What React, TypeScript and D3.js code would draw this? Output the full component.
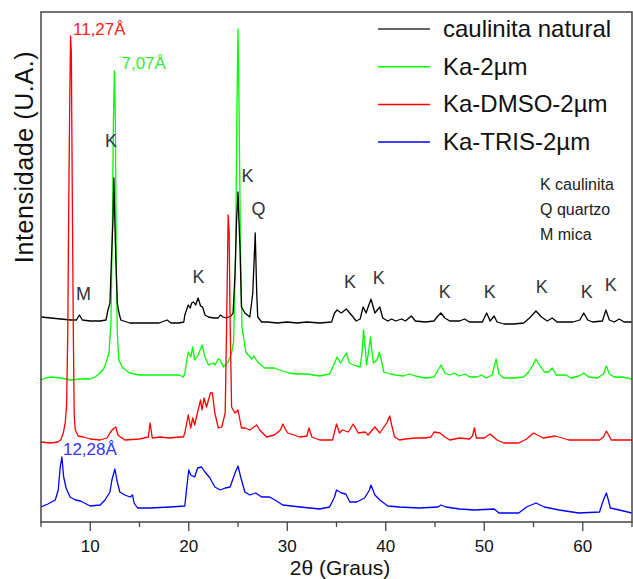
import React from "react";
import * as d3 from "d3";

// [2θ (degrees), intensity (a.u., offset per series)]
const caulinitaNatural: [number, number][] = [
  [5, 205], [6, 204], [7, 203], [8, 202], [8.6, 202], [8.9, 207], [9.2, 202], [10, 201], [11, 201], [11.6, 202],
  [11.8, 212], [12.0, 219], [12.15, 262], [12.3, 300], [12.4, 344], [12.5, 300], [12.6, 262], [12.75, 219], [12.9, 210],
  [13.1, 202], [14, 199], [15, 199], [16, 199], [17, 199], [17.8, 202], [18.2, 199], [19, 199], [19.5, 200], [19.6, 207],
  [19.95, 217], [20.15, 214], [20.3, 219], [20.5, 220], [20.7, 217], [20.95, 224], [21.2, 216], [21.4, 215], [21.65, 207],
  [22.0, 205], [22.5, 204], [23.0, 204], [23.2, 207], [23.5, 205], [23.8, 204], [24.3, 206], [24.5, 209], [24.7, 249],
  [24.85, 300], [25.0, 330], [25.1, 300], [25.2, 275], [25.35, 215], [25.7, 209], [26.2, 205], [26.5, 229], [26.75, 289],
  [26.9, 229], [27.0, 205], [27.4, 200], [28, 200], [29, 199], [30, 200], [31, 199], [32, 200], [33.3, 199], [34.5, 200],
  [34.8, 209], [35.05, 212], [35.5, 209], [36.0, 213], [36.6, 206], [37.0, 201], [37.4, 203], [37.7, 215], [38.0, 209],
  [38.5, 223], [38.9, 209], [39.4, 215], [39.7, 204], [40.2, 201], [40.6, 203], [41.0, 201], [41.6, 203], [42.0, 201],
  [42.6, 206], [43.0, 201], [44.0, 200], [44.9, 201], [45.2, 205], [45.6, 209], [46.0, 204], [46.5, 201], [47.5, 201],
  [48.0, 203], [48.5, 200], [49.8, 200], [50.25, 209], [50.6, 201], [51.0, 206], [51.3, 200], [52, 198], [53, 198],
  [54, 199], [54.6, 204], [55.25, 211], [55.8, 205], [56.4, 201], [56.9, 204], [57.4, 200], [58, 200], [59, 200],
  [59.7, 202], [60.1, 209], [60.5, 202], [61, 200], [62.0, 201], [62.35, 212], [62.7, 202], [63.2, 200], [63.7, 203],
  [64.2, 200], [65, 200],
];

const ka2um: [number, number][] = [
  [5, 142], [5.5, 144], [6, 145], [7, 144], [8, 142], [9, 143], [10, 143], [10.5, 145], [11, 149], [11.4, 154], [11.6, 159],
  [11.9, 169], [12.1, 199], [12.25, 300], [12.35, 400], [12.45, 451], [12.55, 400], [12.65, 250], [12.75, 189], [12.9, 162],
  [13.3, 154], [14, 149], [15, 147], [16, 147], [17, 147], [18, 147], [19, 147], [19.45, 145], [19.6, 149], [19.8, 162],
  [19.95, 170], [20.2, 165], [20.4, 175], [20.6, 162], [20.95, 167], [21.35, 177], [21.65, 165], [22.0, 157], [22.5, 159],
  [22.65, 157], [23.0, 163], [23.2, 162], [23.5, 155], [24.0, 160], [24.35, 169], [24.55, 180], [24.75, 260], [24.9, 420],
  [25.0, 493], [25.1, 420], [25.25, 280], [25.4, 195], [25.8, 170], [26.2, 165], [26.4, 163], [26.6, 166], [27.0, 160],
  [27.7, 154], [28.7, 154], [29.2, 152], [30.2, 149], [31, 148], [32, 148], [33.3, 146], [34.3, 148], [34.8, 159],
  [35.05, 165], [35.4, 159], [36.0, 169], [36.3, 159], [37.0, 156], [37.4, 155], [37.6, 170], [37.75, 192], [37.95, 170],
  [38.05, 157], [38.25, 170], [38.45, 185], [38.6, 170], [38.75, 159], [39.1, 162], [39.35, 170], [39.6, 160], [39.8, 150],
  [40.5, 148], [41, 147], [41.8, 146], [42.4, 148], [43, 146], [44, 144], [44.9, 145], [45.2, 150], [45.6, 157], [46.0, 149],
  [46.5, 147], [47.0, 149], [47.4, 146], [48.1, 148], [48.5, 145], [49.3, 145], [49.7, 147], [50.2, 144], [50.8, 147],
  [51.2, 163], [51.5, 148], [52, 144], [53, 144], [54.0, 145], [54.5, 150], [55.0, 158], [55.25, 163], [55.6, 157],
  [56.1, 150], [56.5, 150], [56.9, 154], [57.3, 147], [58.3, 147], [58.8, 144], [59.6, 146], [60.1, 149], [60.6, 145],
  [61.5, 144], [62.1, 148], [62.4, 156], [62.7, 148], [63.2, 145], [64, 145], [65, 143],
];

const kaDmso: [number, number][] = [
  [5, 80], [6, 79], [6.7, 80], [7.0, 82], [7.26, 89], [7.46, 99], [7.6, 117], [7.72, 192], [7.82, 322], [7.92, 422],
  [8.0, 486], [8.08, 470], [8.18, 322], [8.28, 192], [8.37, 107], [8.48, 92], [8.78, 86], [9.3, 85], [10, 83], [11, 82],
  [11.7, 84], [12.0, 89], [12.3, 93], [12.6, 95], [12.8, 87], [13.5, 82], [15, 83], [15.9, 85], [16.07, 99], [16.3, 84],
  [17.1, 85], [18, 84], [19.1, 85], [19.45, 85], [19.6, 89], [19.95, 107], [20.2, 94], [20.4, 104], [20.6, 97], [20.95, 112],
  [21.2, 122], [21.35, 112], [21.55, 124], [21.8, 115], [22.2, 129], [22.4, 129], [22.65, 109], [23.0, 94], [23.35, 95],
  [23.7, 109], [23.85, 200], [24.0, 307], [24.1, 290], [24.2, 200], [24.35, 115], [24.7, 109], [25.0, 112], [25.35, 94],
  [25.7, 94], [26.2, 92], [26.9, 97], [27.2, 92], [27.9, 85], [28.7, 87], [29.3, 92], [29.55, 98], [29.8, 93], [30.05, 89],
  [31.3, 85], [32.0, 86], [32.2, 94], [32.5, 85], [33.3, 82], [34.6, 82], [35.0, 98], [35.3, 89], [35.6, 92], [36.2, 90],
  [36.7, 98], [37.2, 89], [37.9, 90], [38.2, 87], [38.9, 95], [39.4, 89], [40.1, 99], [40.4, 106], [40.6, 97], [40.9, 85],
  [41.4, 82], [42, 83], [43, 84], [44, 84], [44.6, 85], [44.9, 90], [45.5, 89], [46.0, 85], [46.5, 82], [47.5, 84],
  [48.5, 83], [48.8, 86], [49.0, 94], [49.2, 84], [50.0, 84], [50.6, 88], [51.3, 82], [52, 79], [53.5, 79], [54.3, 83],
  [55.0, 89], [56, 84], [57.2, 86], [58.6, 82], [60, 82], [61.7, 82], [62.1, 85], [62.4, 91], [62.9, 82], [64, 82], [65, 82],
];

const kaTris: [number, number][] = [
  [5, 15], [5.7, 18], [6.45, 22], [6.75, 32], [6.95, 55], [7.12, 65], [7.3, 45], [7.55, 34], [7.95, 25], [8.5, 22], [9.0, 21],
  [10, 16], [11, 17], [11.5, 22], [12.0, 30], [12.2, 42], [12.5, 53], [12.7, 42], [13.0, 30], [13.5, 27], [14.05, 25],
  [14.3, 27], [14.45, 19], [14.8, 14], [16.1, 14], [18.1, 15], [19.6, 16], [19.8, 35], [20.0, 52], [20.2, 47], [20.6, 45],
  [20.9, 54], [21.3, 55], [21.65, 50], [22.15, 44], [22.65, 35], [23.2, 32], [23.7, 34], [24.2, 35], [24.7, 49], [25.0, 56],
  [25.3, 44], [25.7, 30], [26.2, 27], [26.8, 29], [27.4, 25], [28.2, 25], [28.75, 22], [29.55, 17], [31.3, 15], [33.3, 13],
  [34.3, 15], [34.8, 25], [35.0, 32], [35.5, 29], [35.95, 28], [36.35, 20], [37.05, 20], [37.85, 24], [38.35, 32], [38.5, 37],
  [38.9, 27], [39.4, 22], [40.2, 16], [41.4, 15], [43.4, 14], [45.3, 15], [45.6, 17], [46.1, 15], [47.5, 13], [49.0, 12],
  [51.0, 13], [51.5, 9], [53.5, 9], [54.3, 15], [55.25, 19], [56.1, 15], [57.6, 12], [59.6, 9], [61.7, 10], [62.1, 22],
  [62.4, 29], [62.6, 22], [62.8, 14], [63.7, 12], [65, 9],
];

const seriesNames = ["caulinita natural", "Ka-2\u00b5m", "Ka-DMSO-2\u00b5m", "Ka-TRIS-2\u00b5m"];
const seriesColors = ["#000000", "#00ff00", "#ff0000", "#0000ff"];
const seriesData = [caulinitaNatural, ka2um, kaDmso, kaTris];
const drawOrder = [1, 0, 3, 2];

const majorTicks = [10, 20, 30, 40, 50, 60];
const minorTicks = [5, 15, 25, 35, 45, 55, 65];

// peak annotations: [text, 2θ, intensity level, colour]
const peakLabels: [string, number, number, string][] = [
  ["11,27\u00c5", 8.25, 487, "#ff2020"],
  ["7,07\u00c5", 13.17, 453, "#33ee33"],
  ["12,28\u00c5", 7.23, 67, "#3333ff"],
  ["K", 11.5, 375, "#333333"],
  ["K", 25.35, 340, "#333333"],
  ["Q", 26.36, 307, "#333333"],
  ["K", 20.38, 239, "#333333"],
  ["M", 8.55, 222, "#333333"],
  ["K", 35.75, 234, "#333333"],
  ["K", 38.69, 238, "#333333"],
  ["K", 45.39, 224, "#333333"],
  ["K", 49.96, 224, "#333333"],
  ["K", 55.24, 229, "#333333"],
  ["K", 59.8, 224, "#333333"],
  ["K", 62.24, 231, "#333333"],
];

const phaseKey = ["K caulinita", "Q quartzo", "M mica"];

const FONT = "'Liberation Sans', Arial, sans-serif";

export default function App() {
  const left = 41, right = 632, top = 12, bottom = 522;
  const x = d3.scaleLinear().domain([5, 65]).range([left, right]);
  const y = d3.scaleLinear().domain([0, 510]).range([bottom, top]);
  const line = d3
    .line<[number, number]>()
    .x((d) => x(d[0]))
    .y((d) => y(d[1]));

  return (
    <svg
      width={633}
      height={579}
      style={{ position: "absolute", left: 0, top: 0, display: "block", background: "#fff" }}
      fontFamily={FONT}
    >
      <defs>
        <clipPath id="plotclip">
          <rect x={left} y={top} width={right - left} height={bottom - top} />
        </clipPath>
      </defs>
      <g clipPath="url(#plotclip)">
        {drawOrder.map((i) => (
          <path
            key={i}
            d={line(seriesData[i]) || ""}
            fill="none"
            stroke={seriesColors[i]}
            strokeWidth={1.3}
            strokeLinejoin="round"
          />
        ))}
      </g>
      <rect x={left} y={top} width={right - left} height={bottom - top} fill="none" stroke="#444" strokeWidth={1.5} />
      {majorTicks.map((t) => (
        <g key={"M" + t}>
          <line x1={x(t)} x2={x(t)} y1={bottom} y2={bottom + 9} stroke="#444" strokeWidth={1.3} />
          <text x={x(t)} y={552} textAnchor="middle" fontSize={17} fill="#111">
            {t}
          </text>
        </g>
      ))}
      {minorTicks.map((t) => (
        <line key={"m" + t} x1={x(t)} x2={x(t)} y1={bottom} y2={bottom + 5} stroke="#444" strokeWidth={1.3} />
      ))}
      <text x={340} y={575} textAnchor="middle" fontSize={21} fill="#111">
        2θ (Graus)
      </text>
      <text
        transform="translate(33,157) rotate(-90)"
        textAnchor="middle"
        fontSize={25}
        fill="#111"
        letterSpacing={0.6}
      >
        Intensidade (U.A.)
      </text>
      {peakLabels.map(([txt, tx, ty, col], i) => (
        <text key={"p" + i} x={x(tx)} y={y(ty)} fontSize={txt.length > 1 ? 17 : 18} fill={col}>
          {txt}
        </text>
      ))}
      {seriesNames.map((n, i) => {
        const by = 37 + i * 37.7;
        return (
          <g key={n}>
            <line x1={378} x2={430} y1={by - 8} y2={by - 8} stroke={i === 0 ? "#333" : seriesColors[i]} strokeWidth={1.5} />
            <text x={443} y={by} fontSize={24} fill="#111">
              {n}
            </text>
          </g>
        );
      })}
      {phaseKey.map((k, i) => (
        <text key={k} x={540} y={190 + i * 25} fontSize={16} fill="#222">
          {k}
        </text>
      ))}
    </svg>
  );
}
